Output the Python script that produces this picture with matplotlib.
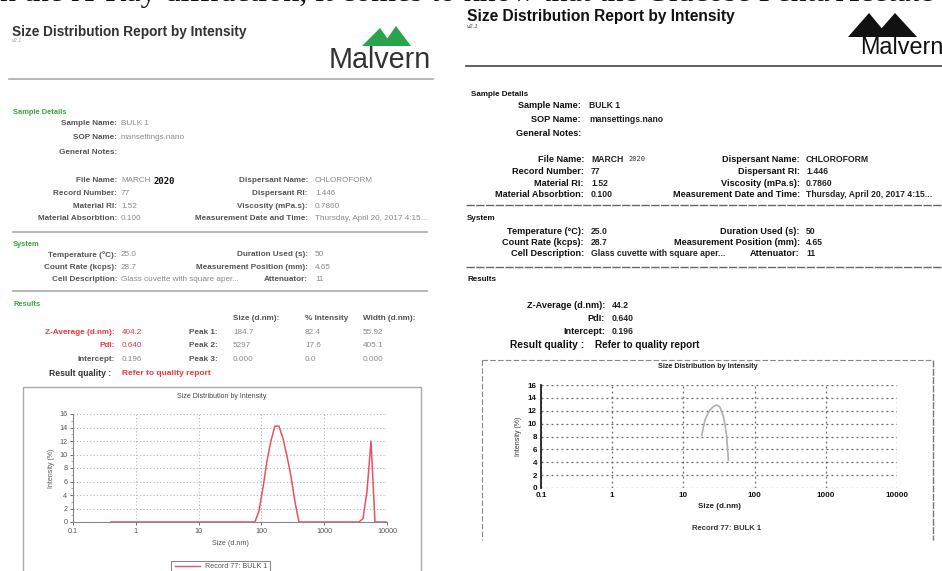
import matplotlib
matplotlib.use('Agg')
import matplotlib.pyplot as plt
from matplotlib.lines import Line2D
from matplotlib.patches import Polygon, Rectangle

plt.rcParams['font.family'] = ['Liberation Sans', 'DejaVu Sans']

W, H = 942, 571

report_title = "Size Distribution Report by Intensity"
detail_labels = ["Sample Name:", "SOP Name:", "General Notes:"]
detail_values = ["BULK 1", "mansettings.nano", ""]
file_labels = ["File Name:", "Record Number:", "Material RI:", "Material Absorbtion:"]
file_values = ["MARCH", "77", "1.52", "0.100"]
disp_labels = ["Dispersant Name:", "Dispersant RI:", "Viscosity (mPa.s):", "Measurement Date and Time:"]
disp_values = ["CHLOROFORM", "1.446", "0.7860", "Thursday, April 20, 2017 4:15..."]
sys_labels = ["Temperature (\u00b0C):", "Count Rate (kcps):", "Cell Description:"]
sys_values = ["25.0", "28.7", "Glass cuvette with square aper..."]
sys2_labels = ["Duration Used (s):", "Measurement Position (mm):", "Attenuator:"]
sys2_values = ["50", "4.65", "11"]
res_labels = ["Z-Average (d.nm):", "PdI:", "Intercept:"]
res_values_left = ["404.2", "0.640", "0.196"]
res_values_right = ["44.2", "0.640", "0.196"]
peak_labels = ["Peak 1:", "Peak 2:", "Peak 3:"]
peak_cols = ["Size (d.nm):", "% Intensity", "Width (d.nm):"]
peak_size = ["184.7", "5297", "0.000"]
peak_int = ["82.4", "17.6", "0.0"]
peak_width = ["55.92", "405.1", "0.000"]

size_left = [0.4, 68.06, 78.82, 91.28, 105.7, 122.4, 141.8, 164.2, 190.1, 220.2,
             255.0, 295.3, 342.0, 396.1, 3580, 4145, 4801, 5560, 6439, 10000]
int_left = [0, 0, 0, 1.6, 5.0, 9.0, 12.0, 14.2, 14.2, 12.4,
            9.8, 6.8, 3.0, 0, 0, 0.5, 4.5, 12.0, 0, 0]
size_right = [18.1, 20.0, 21.8, 23.6, 26.0, 29.3, 32.5, 36.4, 38.5, 40.5, 41.8, 42.8]
int_right = [8.2, 10.5, 11.5, 12.1, 12.6, 12.9, 12.6, 11.1, 9.8, 8.0, 6.0, 4.3]

x_ticks = [0.1, 1, 10, 100, 1000, 10000]
x_tick_labels = ["0.1", "1", "10", "100", "1000", "10000"]
y_ticks = [0, 2, 4, 6, 8, 10, 12, 14, 16]

fig = plt.figure(figsize=(W / 100, H / 100), dpi=100)
fig.patch.set_facecolor('white')


def T(x, y, s, **kw):
    kw.setdefault('va', 'center')
    kw.setdefault('fontsize', 5.9)
    fig.text(x / W, 1 - y / H, s, **kw)


def hline(x0, x1, y, color='#999999', lw=1.0, ls='-'):
    fig.add_artist(Line2D([x0 / W, x1 / W], [1 - y / H, 1 - y / H],
                          transform=fig.transFigure, color=color, lw=lw, ls=ls))


def vline(x, y0, y1, color='#999999', lw=1.0, ls='-'):
    fig.add_artist(Line2D([x / W, x / W], [1 - y0 / H, 1 - y1 / H],
                          transform=fig.transFigure, color=color, lw=lw, ls=ls))


def tri(pts, color):
    fig.add_artist(Polygon([(px / W, 1 - py / H) for px, py in pts], closed=True,
                           transform=fig.transFigure, facecolor=color, edgecolor='none'))


# cut-off line of body text above the reports
T(0, 1.5, "n the X-Ray diffraction, it comes to know that the Glucose Penta Acetate",
  family=['Liberation Serif', 'DejaVu Serif'], fontsize=23, va='baseline', color='#111111')

# ---------------- left report (colour print) ----------------
lab_c, val_c, green, red = '#555555', '#8a8a8a', '#3aa53a', '#e8383f'
T(12, 32, report_title, fontsize=9.8, weight='bold', color='#333333')
T(12, 40, "v2.1", fontsize=4, style='italic', color='#999999')
tri([(362, 46), (380, 28), (393, 46)], '#2ba24c')
tri([(382, 46), (396, 26), (411, 46)], '#2ba24c')
T(431, 60, "Malvern", fontsize=20.7, ha='right', color='#333333')
hline(9, 433, 79, color='#aaaaaa', lw=1.2)

T(13, 113, "Sample Details", fontsize=5.4, weight='bold', color=green)
for i, (l, v) in enumerate(zip(detail_labels, detail_values)):
    y = 123.5 + i * 14.3
    T(117, y, l, ha='right', weight='bold', color=lab_c)
    T(121, y, v, color=val_c)
for i in range(4):
    y = 181 + i * 12.6
    T(117, y, file_labels[i], ha='right', weight='bold', color=lab_c)
    T(121, y, file_values[i], color=val_c)
    T(308, y, disp_labels[i], ha='right', weight='bold', color=lab_c)
    T(315, y, disp_values[i], color=val_c)
T(154, 181, "2020", family=['DejaVu Sans Mono'], fontsize=6.5, weight='bold', color='#111111')
hline(13, 427, 232, color='#aaaaaa', lw=1.2)
T(13, 244, "System", fontsize=5.4, weight='bold', color=green)
for i in range(3):
    y = 255 + i * 12.2
    T(117, y, sys_labels[i], ha='right', weight='bold', color=lab_c)
    T(121, y, sys_values[i], color=val_c)
    T(308, y, sys2_labels[i], ha='right', weight='bold', color=lab_c)
    T(315, y, sys2_values[i], color=val_c)
hline(13, 427, 291, color='#aaaaaa', lw=1.2)
T(13, 304, "Results", fontsize=5.4, weight='bold', color=green)
for x, s in zip([233, 305, 363], peak_cols):
    T(x, 319, s, weight='bold', color=lab_c)
for i in range(3):
    y = 332 + i * 13.7
    c_lab = red if i < 2 else lab_c
    c_val = red if i < 2 else val_c
    T(115, y, res_labels[i], ha='right', weight='bold', color=c_lab)
    T(122, y, res_values_left[i], color=c_val)
    T(218, y, peak_labels[i], ha='right', weight='bold', color=lab_c)
    T(233, y, peak_size[i], color=val_c)
    T(305, y, peak_int[i], color=val_c)
    T(363, y, peak_width[i], color=val_c)
T(49, 373.5, "Result quality :", weight='bold', fontsize=6.2, color='#333333')
T(122, 373.5, "Refer to quality report", weight='bold', fontsize=6, color=red)

fig.add_artist(Rectangle((23 / W, 1 - 575 / H), (421 - 23) / W, (575 - 387) / H,
                         transform=fig.transFigure, fill=False, edgecolor='#aaaaaa', lw=1))
T(222, 396, "Size Distribution by Intensity", ha='center', fontsize=5, color='#444444')

axL = fig.add_axes([73 / W, 1 - 522 / H, (387 - 73) / W, (522 - 414) / H])
axL.plot(size_left, int_left, color='#e65262', lw=1.1, zorder=3)
axL.set_xscale('log')
axL.set_xlim(0.1, 10000)
axL.set_ylim(0, 16)
axL.set_xticks(x_ticks)
axL.set_xticklabels(x_tick_labels)
axL.set_yticks(y_ticks)
axL.set_yticks(range(0, 17), minor=True)
axL.xaxis.set_minor_locator(plt.NullLocator())
axL.grid(True, which='major', color='#b5b5b5', ls=(0, (1, 2)), lw=0.8)
for s in ['top', 'right']:
    axL.spines[s].set_visible(False)
for s in ['left', 'bottom']:
    axL.spines[s].set_color('#888888')
    axL.spines[s].set_linewidth(0.8)
axL.tick_params(labelsize=5.2, colors='#555555', length=2, width=0.6, pad=2)
axL.tick_params(which='minor', length=1.2, width=0.5, colors='#888888')
axL.set_xlabel("Size (d.nm)", fontsize=5.2, color='#555555', labelpad=4)
axL.set_ylabel("Intensity (%)", fontsize=5, color='#555555', labelpad=3)

fig.add_artist(Rectangle((171 / W, 1 - 572 / H), 99 / W, 11 / H,
                         transform=fig.transFigure, fill=False, edgecolor='#888888', lw=0.8))
fig.add_artist(Line2D([175 / W, 200 / W], [1 - 566 / H, 1 - 566 / H],
                      transform=fig.transFigure, color='#e65262', lw=1))
T(205, 566, "Record 77: BULK 1", fontsize=5.2, color='#555555')

# ---------------- right report (photocopy) ----------------
ink, ink_v = '#111111', '#222222'
T(467, 17, report_title, fontsize=11.2, weight='bold', color=ink)
T(467, 27, "v2.1", fontsize=4.4, style='italic', color='#444444')
tri([(848, 37), (869, 13), (889, 37)], '#111111')
tri([(874, 37), (895, 13), (917, 37)], '#111111')
T(860, 48, "Malvern", fontsize=16.8, color=ink)
hline(466, 942, 66, color='#444444', lw=1.2)

rf = 6.6
T(471, 95, "Sample Details", fontsize=5.8, weight='bold', color=ink)
for i, (l, v) in enumerate(zip(detail_labels, detail_values)):
    y = 105 + i * 14
    T(581, y, l, ha='right', weight='bold', fontsize=rf, color=ink)
    T(589, y, v, weight='bold', fontsize=6.2, color=ink_v)
for i in range(4):
    y = 160 + i * 11.6
    T(584, y, file_labels[i], ha='right', weight='bold', fontsize=rf, color=ink)
    T(591, y, file_values[i], weight='bold', fontsize=6.2, color=ink_v)
    T(800, y, disp_labels[i], ha='right', weight='bold', fontsize=rf, color=ink)
    T(806, y, disp_values[i], weight='bold', fontsize=6.2, color=ink_v)
T(628, 159, "2020", family=['DejaVu Sans Mono'], fontsize=5, color='#333333')
hline(466, 942, 205, color='#666666', lw=1.0, ls=(0, (6, 1)))
T(467, 218, "System", fontsize=5.8, weight='bold', color=ink)
for i in range(3):
    y = 231 + i * 11.3
    T(584, y, sys_labels[i], ha='right', weight='bold', fontsize=rf, color=ink)
    T(591, y, sys_values[i], weight='bold', fontsize=6.2, color=ink_v)
    T(800, y, sys2_labels[i], ha='right', weight='bold', fontsize=rf, color=ink)
    T(806, y, sys2_values[i], weight='bold', fontsize=6.2, color=ink_v)
hline(466, 942, 267, color='#666666', lw=1.0, ls=(0, (6, 1)))
T(468, 279, "Results", fontsize=5.8, weight='bold', color=ink)
for i in range(3):
    y = 305 + i * 13.5
    T(605, y, res_labels[i], ha='right', weight='bold', fontsize=rf, color=ink)
    T(612, y, res_values_right[i], weight='bold', fontsize=6.2, color=ink_v)
T(510, 345.5, "Result quality :", weight='bold', fontsize=7.4, color=ink)
T(595, 345.5, "Refer to quality report", weight='bold', fontsize=7.2, color=ink)

hline(482, 933, 360, color='#888888', lw=0.8, ls=(0, (5, 2)))
vline(482, 360, 540, color='#888888', lw=0.8, ls=(0, (5, 2)))
vline(933, 360, 540, color='#777777', lw=1.0, ls=(0, (5, 1)))
T(708, 367, "Size Distribution by Intensity", ha='center', fontsize=5.2, weight='bold', color='#222222')

axR = fig.add_axes([541 / W, 1 - 488 / H, (897 - 541) / W, (488 - 385) / H])
axR.plot(size_right, int_right, color='#b0b0b0', lw=1.2, zorder=3)
axR.set_xscale('log')
axR.set_xlim(0.1, 10000)
axR.set_ylim(0, 16)
axR.set_xticks(x_ticks)
axR.set_xticklabels(x_tick_labels)
axR.set_yticks(y_ticks)
axR.xaxis.set_minor_locator(plt.NullLocator())
axR.grid(True, which='major', color='#666666', ls=(0, (1.5, 2.5)), lw=0.9)
for s in ['top', 'right', 'bottom']:
    axR.spines[s].set_visible(False)
axR.spines['left'].set_color('#222222')
axR.spines['left'].set_linewidth(1.3)
axR.tick_params(labelsize=5.8, colors='#111111', length=0, pad=3)
for lbl in axR.get_xticklabels() + axR.get_yticklabels():
    lbl.set_fontweight('bold')
axR.set_xlabel("Size (d.nm)", fontsize=5.8, weight='bold', color='#222222', labelpad=3)
axR.set_ylabel("Intensity (%)", fontsize=5, color='#333333', labelpad=4)
T(727, 529, "Record 77: BULK 1", ha='center', fontsize=5.5, weight='bold', color='#333333')

fig.savefig('out.png', dpi=100, facecolor='white')
